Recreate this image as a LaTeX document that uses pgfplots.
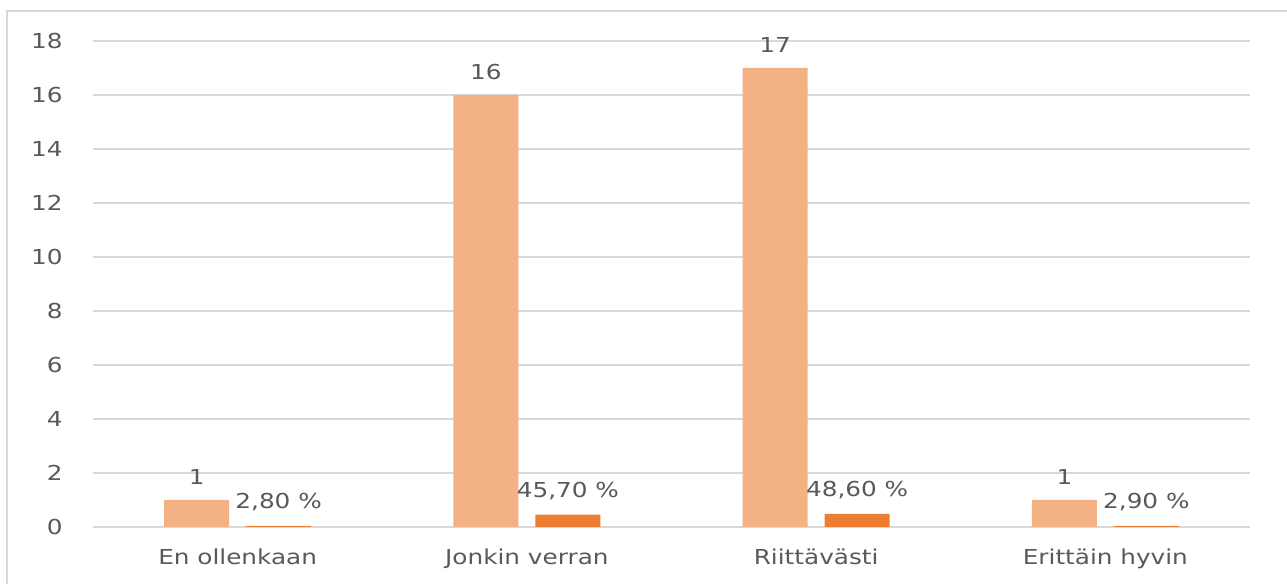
\documentclass[border=0pt]{standalone}
\usepackage{fontspec}
\setmainfont{DejaVu Sans}[FakeStretch=1.2]
\usepackage{pgfplots}
\pgfplotsset{compat=1.18}

\definecolor{lightorange}{HTML}{F4B183}
\definecolor{darkorange}{HTML}{ED7D31}
\definecolor{gridgray}{HTML}{D9D9D9}
\definecolor{textgray}{HTML}{595959}

\begin{document}
\begin{tikzpicture}
% 1 px of the reference = 0.5pt
\path[use as bounding box] (0,0) rectangle (643.5pt,292pt);
\draw[gridgray, line width=0.8pt] (3.5pt,0) -- (3.5pt,286.5pt) -- (643.5pt,286.5pt);
\begin{axis}[
    at={(46.5pt,28.5pt)},
    anchor=south west,
    scale only axis,
    width=578.5pt,
    height=243pt,
    ymin=0, ymax=18,
    ytick={0,2,...,18},
    xmin=-0.5, xmax=3.5,
    xtick={0,1,2,3},
    xticklabels={En ollenkaan, Jonkin verran, Riittävästi, Erittäin hyvin},
    axis line style={draw=none},
    major tick length=0pt,
    ymajorgrids,
    grid style={gridgray, line width=0.8pt},
    axis on top=false,
    tick label style={font=\fontsize{10.3}{12}\selectfont, text=textgray},
    /pgf/number format/assume math mode=true,
    yticklabel style={xshift=-11.7pt},
    xticklabel style={yshift=-7.5pt},
    ybar,
    bar width=32.5pt,
    nodes near coords,
    nodes near coords style={font=\fontsize{10.3}{12}\selectfont, text=textgray, yshift=4pt},
    clip=false,
]
\addplot[fill=lightorange, draw=none, bar shift=-20.5pt] coordinates {
(0,1) (1,16) (2,17) (3,1)
};
\addplot[fill=darkorange, draw=none, bar shift=20.5pt,
    point meta=explicit symbolic] coordinates {
(0,0.028) [2,80 \%]
(1,0.457) [45,70 \%]
(2,0.486) [48,60 \%]
(3,0.029) [2,90 \%]
};
\end{axis}
\end{tikzpicture}
\end{document}
